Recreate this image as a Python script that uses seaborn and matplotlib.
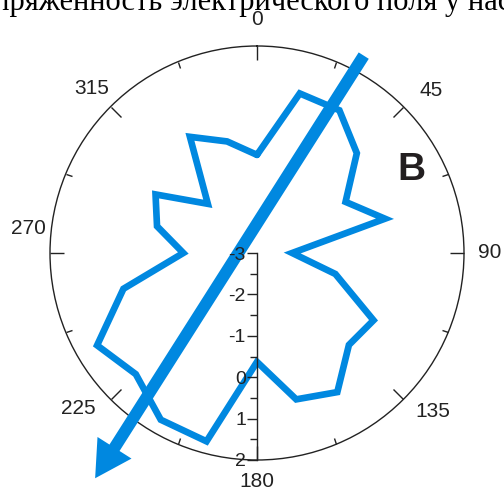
import numpy as np
import pandas as pd
import matplotlib
matplotlib.use('Agg')
import matplotlib.pyplot as plt
import seaborn as sns

# directions (deg, clockwise from north) and field values
angles = [0, 15, 30, 45, 60, 75, 90, 105, 120, 135, 150, 165,
          180, 195, 210, 225, 240, 255, 270, 285, 300, 315, 330, 345]
values = [-0.63, 0.99, 0.98, 0.41, -0.53, 0.20, -2.15, -1.04, 0.25, 0.14, 0.88, 0.66,
          -0.37, 1.71, 1.65, 1.14, 1.46, 0.34, -1.22, -0.50, -0.17, -1.32, 0.24, -0.21]

# mean direction arrow: (angle, r) of tail and tip
arrow_tail = (28.4, 2.42)
arrow_tip = (215.7, 3.70)

r_lim = (-3, 2)
r_ticks = [-3, -2, -1, 0, 1, 2]
r_minor = [-2.5, -1.5, -0.5, 0.5, 1.5]

theta_major = [0, 45, 90, 135, 180, 225, 270, 315]
theta_minor = [22.5, 67.5, 112.5, 157.5, 202.5, 247.5, 292.5, 337.5]
theta_labels = ['0', '45', '90', '135', '180', '225', '270', '315']
label_theta = [0, 47, 90, 132, 180, 229, 276, 315]
label_r = [2.63, 2.74, 2.63, 2.73, 2.51, 2.73, 2.56, 2.63]

title = 'Напряженность электрического поля у насекомых'
panel = 'B'

blue = '#0088e0'
dark = '#222222'

sns.set_style('white')
plt.rcParams['font.family'] = ['Liberation Sans', 'DejaVu Sans']
plt.rcParams['axes.unicode_minus'] = False

fig = plt.figure(figsize=(5.04, 4.91), dpi=100)
ax = fig.add_axes([50/504, 31/491, 414/504, 414/491], projection='polar')
ax.set_theta_zero_location('N')
ax.set_theta_direction(-1)

df = pd.DataFrame({'theta': np.deg2rad(angles + [360]),
                   'r': values + values[:1]})
sns.lineplot(data=df, x='theta', y='r', sort=False, ax=ax, color=blue,
             linewidth=4.8, solid_joinstyle='miter', zorder=3)
ax.set_ylim(*r_lim)
ax.set_yticks([])
ax.grid(False)
ax.set_xlabel('')
ax.set_ylabel('')
ax.set_xticks(np.deg2rad(theta_major), labels=[''] * len(theta_major))
ax.set_xticks(np.deg2rad(theta_minor), minor=True)
# outer ticks only (tick2 sits on the outer circle in polar axes)
ax.tick_params(axis='x', which='both', bottom=False, top=True)
ax.tick_params(axis='x', which='major', direction='in', length=10, width=1, color=dark)
ax.tick_params(axis='x', which='minor', direction='in', length=4.3, width=1, color=dark)
ax.spines['polar'].set_color(dark)
ax.spines['polar'].set_linewidth(1)

for t, rr, lab in zip(label_theta, label_r, theta_labels):
    ax.text(np.deg2rad(t), rr, lab, ha='center', va='center', fontsize=15, color=dark)

ax.annotate('', xy=(np.deg2rad(arrow_tip[0]), arrow_tip[1]),
            xytext=(np.deg2rad(arrow_tail[0]), arrow_tail[1]),
            arrowprops=dict(arrowstyle='simple,head_length=26,head_width=29,tail_width=8.6',
                            mutation_scale=1, color=blue, lw=0, shrinkA=0, shrinkB=0),
            annotation_clip=False, zorder=4)

# radial scale drawn along the 180 direction
rax = fig.add_axes([257/504, 31/491, 0.0001, 207/491])
rax.set_ylim(r_lim[1], r_lim[0])
rax.set_yticks(r_ticks)
rax.set_yticks(r_minor, minor=True)
rax.set_xticks([])
for s in ['top', 'right', 'bottom']:
    rax.spines[s].set_visible(False)
rax.spines['left'].set_color(dark)
rax.spines['left'].set_linewidth(1)
rax.tick_params(axis='y', which='both', left=True, right=False, direction='out')
rax.tick_params(axis='y', which='major', length=7, width=1, color=dark, labelsize=14, pad=1, labelcolor=dark)
rax.tick_params(axis='y', which='minor', length=5, width=1, color=dark)
rax.patch.set_alpha(0)

fig.text(411.7/504, 1 - 170/491, panel, fontsize=28, fontweight='bold',
         ha='center', va='center', color='#231f20')
fig.text(-42/504, 1 - 10/491, title, family='Liberation Serif', fontsize=22,
         ha='left', va='baseline', color='black')

plt.savefig('out.png', dpi=100)
